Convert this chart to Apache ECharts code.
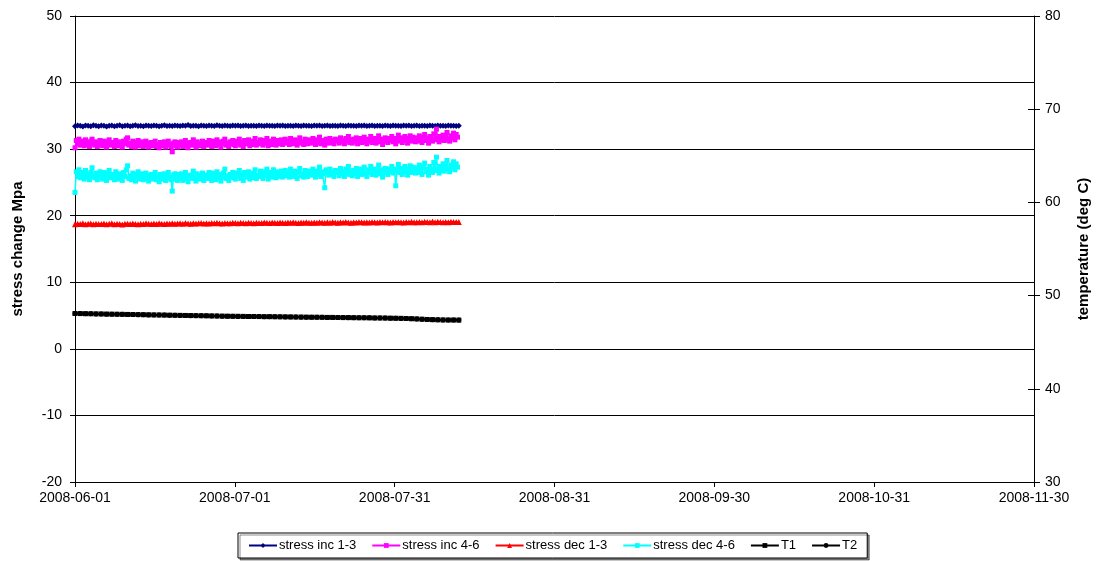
<!DOCTYPE html>
<html>
<head>
<meta charset="utf-8">
<script src="https://cdn.jsdelivr.net/npm/echarts@6/dist/echarts.min.js"></script>
<style>
html,body{margin:0;padding:0;background:#fff;overflow:hidden;}
#chart{width:1097px;height:561px;}
</style>
</head>
<body>
<div id="chart"></div>
<script>
// ---- data (x = days since 2008-06-01) ----
const xTickLabels = ['2008-06-01','2008-07-01','2008-07-31','2008-08-31','2008-09-30','2008-10-31','2008-11-30'];
const stressStepDays = 0.5;    // stress 1-3 readings every 12 h
const stressFineStepDays = 0.25; // stress 4-6 readings every 6 h
const tempStepDays = 1;        // temperature readings every day

const stressInc13 = [
33.45,33.55,33.50,33.40,33.55,33.50,33.45,33.60,33.50,33.45,
33.55,33.50,33.40,33.50,33.55,33.45,33.50,33.60,33.45,33.50,
33.55,33.45,33.50,33.58,33.47,33.52,33.45,33.55,33.50,33.48,
33.56,33.50,33.45,33.53,33.60,33.48,33.52,33.46,33.55,33.50,
33.47,33.55,33.50,33.62,33.48,33.53,33.50,33.45,33.56,33.51,
33.48,33.55,33.50,33.46,33.58,33.52,33.49,33.55,33.50,33.47,
33.54,33.50,33.57,33.48,33.52,33.55,33.49,33.53,33.50,33.46,
33.55,33.51,33.48,33.56,33.50,33.53,33.47,33.54,33.50,33.57,
33.49,33.53,33.50,33.46,33.55,33.51,33.48,33.56,33.50,33.53,
33.47,33.54,33.50,33.57,33.49,33.52,33.55,33.48,33.53,33.50,
33.46,33.55,33.51,33.48,33.56,33.50,33.53,33.47,33.54,33.50,
33.57,33.49,33.52,33.55,33.48,33.53,33.50,33.46,33.55,33.51,
33.48,33.56,33.50,33.53,33.47,33.54,33.50,33.57,33.49,33.52,
33.55,33.48,33.53,33.50,33.46,33.55,33.51,33.48,33.56,33.50,
33.53,33.48,33.54,33.50,33.52,33.49,33.51];

const stressInc46 = [
30.2,31.3,30.8,31.5,30.6,30.9,31.2,30.5,31.4,30.7,31.0,30.4,31.2,31.5,30.8,30.6,31.1,30.4,30.9,31.3,
30.7,30.5,31.2,30.9,30.3,31.1,31.4,30.6,30.8,31.0,30.4,31.3,30.7,30.5,31.1,30.9,30.3,31.2,30.8,31.5,
31.7,30.6,30.9,30.4,31.2,30.7,30.3,31.0,31.3,30.5,30.8,31.1,30.4,30.6,31.2,30.9,30.3,30.7,31.0,30.5,
30.9,31.2,30.4,30.7,30.2,31.0,30.8,30.5,31.1,30.3,30.6,31.2,30.7,30.4,29.6,30.9,31.1,30.5,30.3,31.0,
30.6,31.1,30.4,30.8,31.3,30.5,30.2,30.9,31.0,30.6,31.4,30.7,30.3,31.1,30.8,30.5,30.9,31.2,30.4,30.7,
31.0,30.6,31.3,30.8,30.4,31.2,30.9,30.5,31.4,30.7,31.1,30.3,30.8,31.2,31.5,30.6,30.9,30.4,31.1,30.8,
31.3,30.7,30.5,31.2,30.9,31.5,30.6,31.0,30.4,31.3,31.1,30.8,31.4,30.5,30.9,31.2,30.7,31.6,30.6,31.0,
30.8,31.4,31.1,30.6,31.3,30.9,31.6,30.5,31.0,31.2,30.7,31.5,30.9,30.6,31.3,31.1,30.8,31.4,30.7,31.2,
31.5,30.9,31.2,30.7,31.6,31.0,30.8,31.4,31.2,30.6,31.3,31.7,30.9,31.1,30.7,31.5,31.2,30.8,31.4,31.0,
30.9,31.6,31.2,30.7,31.4,31.0,31.8,30.8,31.3,31.1,30.6,31.5,31.2,30.9,31.6,31.0,31.3,30.8,31.5,31.2,
31.4,30.9,31.7,31.1,31.3,30.8,31.6,31.2,31.9,31.0,31.4,30.9,31.5,31.2,31.7,30.8,31.3,31.6,31.0,31.4,
31.8,31.1,30.8,31.5,31.2,31.9,31.0,31.4,31.6,30.9,31.3,32.0,31.1,31.5,30.7,31.4,31.7,31.2,31.0,31.6,
31.3,31.9,31.1,31.6,30.8,31.4,32.1,31.2,31.7,31.0,31.5,31.9,31.3,30.9,31.6,32.0,31.2,31.8,31.4,31.1,
31.7,31.2,32.0,31.4,31.0,31.8,32.2,31.3,31.6,30.9,31.9,31.5,31.2,32.3,31.4,33.0,31.6,31.1,31.9,31.4,
32.1,31.3,31.8,32.5,31.5,31.2,32.0,31.7,32.4,31.4,32.2,31.8];

const stressDec13 = [
18.70,18.80,18.75,18.85,18.70,18.78,18.82,18.72,18.80,18.76,
18.74,18.82,18.70,18.78,18.85,18.72,18.80,18.76,18.68,18.78,
18.80,18.74,18.83,18.77,18.72,18.81,18.76,18.85,18.78,18.74,
18.82,18.77,18.86,18.79,18.75,18.84,18.80,18.88,18.78,18.83,
18.86,18.80,18.90,18.84,18.79,18.88,18.82,18.86,18.92,18.84,
18.88,18.83,18.91,18.86,18.95,18.87,18.84,18.92,18.88,18.85,
18.93,18.89,18.86,18.94,18.90,18.87,18.95,18.91,18.88,18.96,
18.92,18.89,18.97,18.93,18.90,18.98,18.94,18.91,18.99,18.95,
18.92,18.97,18.94,19.00,18.95,18.92,18.98,18.94,19.02,18.96,
18.93,18.99,18.96,19.03,18.97,18.94,19.00,18.96,19.04,18.98,
18.95,19.01,18.97,19.04,18.99,18.96,19.02,18.98,19.05,19.00,
18.97,19.03,18.99,19.06,19.01,18.97,19.04,19.00,19.07,19.02,
18.98,19.04,19.01,19.07,19.02,18.99,19.05,19.01,19.08,19.03,
19.00,19.06,19.02,19.09,19.04,19.00,19.13,19.03,19.08,19.04,
19.01,19.07,19.03,19.09,19.05,19.04,19.06];

const stressDec46 = [
23.5,26.6,25.9,26.9,25.7,26.1,26.5,25.5,26.8,25.8,26.2,25.4,26.5,27.2,25.9,25.7,26.4,25.4,26.0,26.6,
25.8,25.5,26.5,26.1,25.3,26.3,26.8,25.7,25.9,26.2,25.4,26.6,25.8,25.5,26.3,26.1,25.3,26.5,25.9,26.9,
27.5,25.6,26.0,25.4,26.4,25.8,25.2,26.2,26.6,25.5,25.9,26.3,25.4,25.6,26.4,26.0,25.2,25.8,26.2,25.5,
26.1,26.5,25.4,25.8,25.1,26.2,25.9,25.5,26.3,25.3,25.7,26.5,25.8,25.4,23.7,26.1,26.3,25.5,25.3,26.2,
25.6,26.3,25.3,25.9,26.5,25.5,25.1,26.0,26.1,25.6,26.7,25.7,25.2,26.3,25.9,25.5,26.0,26.4,25.3,25.7,
26.1,25.6,26.5,25.8,25.3,26.4,26.0,25.4,26.6,25.7,26.2,25.2,25.8,26.4,27.0,25.6,26.0,25.3,26.2,25.8,
26.5,25.7,25.5,26.4,26.0,26.8,25.6,26.1,25.3,26.5,26.2,25.8,26.6,25.5,26.0,26.4,25.7,26.9,25.6,26.1,
25.9,26.7,26.3,25.6,26.6,26.1,27.0,25.5,26.2,26.5,25.8,26.9,26.1,25.7,26.6,26.3,25.9,26.7,25.8,26.4,
26.8,26.0,26.4,25.8,27.0,26.2,25.9,26.7,26.4,25.6,26.6,27.1,26.0,26.3,25.8,26.8,26.4,25.9,26.7,26.2,
26.1,27.0,26.5,25.8,26.7,26.2,27.3,25.9,26.6,26.3,24.2,26.9,26.5,26.1,27.0,26.2,26.6,25.9,26.8,26.5,
26.7,26.0,27.1,26.3,26.6,25.9,27.0,26.4,27.4,26.2,26.7,26.0,26.8,26.4,27.1,25.9,26.6,27.0,26.2,26.7,
27.3,26.3,25.9,26.9,26.5,27.4,26.2,26.7,27.0,26.1,26.6,27.6,26.3,26.9,25.8,26.7,27.1,26.5,26.2,27.0,
26.6,27.4,26.4,27.0,24.5,26.7,27.7,26.5,27.1,26.2,26.9,27.4,26.6,26.1,27.0,27.5,26.5,27.3,26.7,26.4,
27.2,26.5,27.6,26.8,26.2,27.3,27.9,26.6,27.0,26.1,27.4,26.9,26.5,28.0,26.8,28.8,27.0,26.4,27.4,26.8,
27.8,26.7,27.4,28.3,27.0,26.6,27.6,27.2,28.1,26.9,27.8,27.3];

const tempT1 = [
48.08,48.07,48.06,48.05,48.04,48.03,48.02,48.01,48.00,47.99,
47.98,47.97,47.96,47.95,47.94,47.93,47.92,47.91,47.90,47.89,
47.88,47.87,47.86,47.85,47.84,47.83,47.82,47.81,47.80,47.79,
47.78,47.78,47.77,47.76,47.76,47.75,47.74,47.74,47.73,47.72,
47.72,47.71,47.70,47.70,47.69,47.68,47.68,47.67,47.66,47.66,
47.65,47.64,47.64,47.63,47.62,47.62,47.61,47.60,47.60,47.59,
47.58,47.57,47.56,47.54,47.52,47.50,47.47,47.44,47.42,47.40,
47.39,47.38,47.38,47.37];

const tempT2 = [
48.07,48.07,48.05,48.05,48.03,48.03,48.01,48.01,47.99,47.99,
47.97,47.97,47.95,47.95,47.93,47.93,47.91,47.91,47.89,47.89,
47.87,47.87,47.85,47.85,47.83,47.83,47.81,47.81,47.79,47.79,
47.78,47.77,47.77,47.76,47.75,47.75,47.74,47.73,47.73,47.72,
47.71,47.71,47.70,47.69,47.69,47.68,47.67,47.67,47.66,47.65,
47.65,47.64,47.63,47.63,47.62,47.61,47.61,47.60,47.59,47.59,
47.58,47.57,47.55,47.53,47.51,47.49,47.46,47.43,47.41,47.40,
47.39,47.38,47.37,47.37];

const seriesNames = ['stress inc 1-3','stress inc 4-6','stress dec 1-3','stress dec 4-6','T1','T2'];

// ---- build ----
function pairs(vals, step){ return vals.map((v,i)=>[i*step, v]); }
const xInterval = 30.4;
const xMax = xInterval*6;
const FONT = 'Liberation Sans, Arial, sans-serif';

const chart = echarts.init(document.getElementById('chart'), null, {renderer:'canvas'});

function lineSeries(name, data, color, symbol, size, yIdx, z, lw){
  return {
    name, type:'line', data, yAxisIndex:yIdx,
    symbol, symbolSize:size, showSymbol:true, showAllSymbol:true,
    lineStyle:{color, width:lw||1}, itemStyle:{color, borderWidth:0},
    animation:false, z:z, emphasis:{disabled:true}
  };
}

const option = {
  backgroundColor:'#ffffff',
  animation:false,
  textStyle:{fontFamily:FONT},
  grid:{left:75, right:63, top:16, bottom:79, containLabel:false, outerBoundsMode:'none'},
  legend:{
    left:238, top:533,
    padding:[6,10,6,10],
    itemGap:15, itemWidth:28, itemHeight:6,
    borderColor:'#000', borderWidth:1, backgroundColor:'#fff',
    shadowColor:'rgba(0,0,0,0.45)', shadowOffsetX:2, shadowOffsetY:2, shadowBlur:0,
    textStyle:{fontFamily:FONT, fontSize:13, color:'#000', padding:[0,0,0,-3]},
    data:seriesNames
  },
  xAxis:{
    type:'value', min:0, max:xMax, interval:xInterval,
    axisLine:{onZero:false, lineStyle:{color:'#000', width:1}},
    axisTick:{show:true, length:5, lineStyle:{color:'#000'}},
    axisLabel:{
      color:'#000', fontSize:14, fontFamily:FONT, margin:9,
      showMinLabel:true, showMaxLabel:true,
      formatter:function(v){ return xTickLabels[Math.round(v/xInterval)] || ''; }
    },
    splitLine:{show:false}
  },
  yAxis:[
    {
      type:'value', position:'left', min:-20, max:50, interval:10,
      name:'stress change Mpa', nameLocation:'middle', nameGap:50, nameRotate:90,
      nameTextStyle:{fontFamily:FONT, fontWeight:'bold', fontSize:15, color:'#000'},
      axisLine:{show:true, onZero:false, lineStyle:{color:'#000'}},
      axisTick:{show:true, length:5, lineStyle:{color:'#000'}},
      axisLabel:{color:'#000', fontSize:14, fontFamily:FONT, margin:13},
      splitLine:{show:true, lineStyle:{color:'#000', width:1}}
    },
    {
      type:'value', position:'right', min:30, max:80, interval:10,
      name:'temperature (deg C)', nameLocation:'middle', nameGap:42, nameRotate:90,
      nameTextStyle:{fontFamily:FONT, fontWeight:'bold', fontSize:15, color:'#000'},
      axisLine:{show:true, onZero:false, lineStyle:{color:'#000'}},
      axisTick:{show:true, length:6, lineStyle:{color:'#000'}},
      axisLabel:{color:'#000', fontSize:14, fontFamily:FONT, margin:11},
      splitLine:{show:false}
    },
    {
      type:'value', position:'right', min:30, max:80, interval:10,
      axisLine:{show:false, onZero:false},
      axisTick:{show:true, inside:true, length:6, lineStyle:{color:'#000'}},
      axisLabel:{show:false},
      splitLine:{show:false}
    }
  ],
  series:[
    lineSeries(seriesNames[0], pairs(stressInc13, stressStepDays), '#000080', 'diamond', 6, 0, 2, 2),
    lineSeries(seriesNames[1], pairs(stressInc46, stressFineStepDays), '#FF00FF', 'rect', 5, 0, 3, 1.5),
    lineSeries(seriesNames[2], pairs(stressDec13, stressStepDays), '#FF0000', 'triangle', 6, 0, 4, 2),
    lineSeries(seriesNames[3], pairs(stressDec46, stressFineStepDays), '#00FFFF', 'rect', 5, 0, 5, 1.5),
    lineSeries(seriesNames[4], pairs(tempT1, tempStepDays), '#000000', 'rect', 5, 1, 6, 2),
    lineSeries(seriesNames[5], pairs(tempT2, tempStepDays), '#000000', 'circle', 5, 1, 7, 2)
  ]
};
chart.setOption(option);
</script>
</body>
</html>
